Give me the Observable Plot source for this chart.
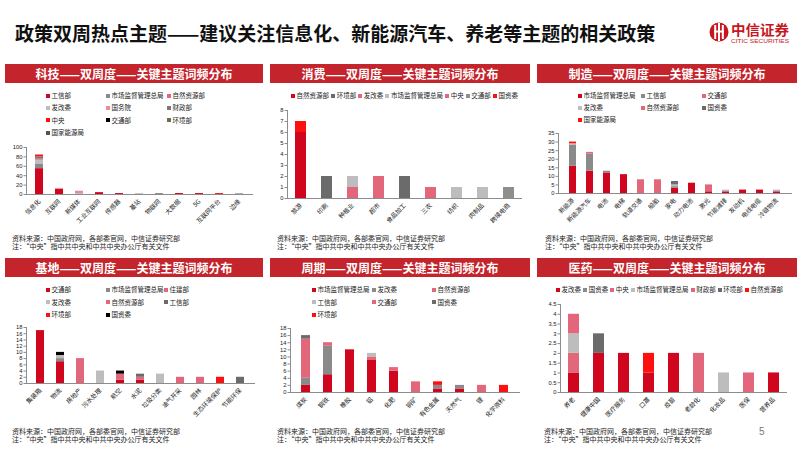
<!DOCTYPE html>
<html><head><meta charset="utf-8">
<script src="https://cdn.jsdelivr.net/npm/d3@7"></script>
<script src="https://cdn.jsdelivr.net/npm/@observablehq/plot@0.6"></script>
<style>
body{margin:0;background:#fff;}
#page{position:relative;width:802px;height:451px;overflow:hidden;background:#fff;font-family:"Noto Sans CJK SC",sans-serif;}
.abs{position:absolute;}
.tbar{position:absolute;height:19px;background:#C4242B;color:#fff;font-weight:bold;font-size:12px;line-height:19px;text-align:center;letter-spacing:0px;}
.li{position:absolute;white-space:nowrap;font-size:6.5px;line-height:8px;color:#222;}
.sw{display:inline-block;width:4px;height:4px;margin-right:1.5px;vertical-align:middle;position:relative;top:-0.5px;}
.row{position:absolute;display:flex;justify-content:space-between;white-space:nowrap;font-size:6.5px;line-height:8px;color:#222;}
.src{position:absolute;font-size:7px;color:#222;line-height:8px;white-space:nowrap;}
.plotwrap{position:absolute;}
</style></head><body><div id="page"></div>
<script>
// ---------------- DATA ----------------
const mainTitle = "政策双周热点主题——建议关注信息化、新能源汽车、养老等主题的相关政策";
const sourceLine1 = "资料来源：中国政府网，各部委官网，中信证券研究部";
const sourceLine2 = "注：“中央”指中共中央和中共中央办公厅有关文件";

// 科技
const techTitle = "科技——双周度——关键主题词频分布";
const techCategories = ["信息化","互联网","新媒体","工业互联网","传感器","基站","物联网","大数据","5G","互联网平台","边缘"];
const techSeries = ["工信部","市场监督管理总局","自然资源部","发改委","国务院","财政部","中央","交通部","环境部","国家能源局"];
const techValues = [
  [55,11,0,4,2,0,0,2,2,0,0],
  [10,0,0,0,0,1,2,0,0,0,0],
  [0,0,0,0,0,0,0,0,0,0,0],
  [7,0,2,0,0,0,0,0,0,0,0],
  [3,2,5,0,0,0,0,0,0,0,0],
  [5,0,0,0,0,0,0,0,0,0,0],
  [4,0,0,0,0,0,0,0,0,2,0],
  [0,0,0,0,0,0,0,0,0,0,0],
  [0,0,0,0,0,0,0,0,0,0,0],
  [0,0,0,0,0,0,0,0,0,0,1]
];
const techTicks = [0,20,40,60,80,100];

// 消费
const consTitle = "消费——双周度——关键主题词频分布";
const consCategories = ["旅游","印刷","种植业","超市","食品加工","三农","纺织","肉制品","跨境电商"];
const consSeries = ["自然资源部","环境部","发改委","市场监督管理总局","中央","交通部","国资委"];
const consValues = [
  [6,0,0,0,0,0,0,0,0],
  [0,2,0,0,2,0,0,0,0],
  [0,0,1,2,0,0,0,0,0],
  [0,0,1,0,0,0,1,1,0],
  [0,0,0,0,0,1,0,0,0],
  [0,0,0,0,0,0,0,0,1],
  [1,0,0,0,0,0,0,0,0]
];
const consTicks = [0,1,2,3,4,5,6,7,8];

// 制造
const mfgTitle = "制造——双周度——关键主题词频分布";
const mfgCategories = ["新能源","新能源汽车","电池","电梯","轨道交通","船舶","家电","动力电池","激光","节能减排","发动机","电线电缆","冷链物流"];
const mfgSeries = ["市场监督管理总局","工信部","交通部","发改委","自然资源部","国资委","国家能源局"];
const mfgValues = [
  [16,13,12,11,0,0,3,6,1,1,2,2,1],
  [12,10,1,0,0,0,1,0,0,0,0,0,0],
  [0,1,0,0,8,8,0,0,0,0,0,0,0],
  [1,0,0,0,0,0,1,0,0,1,0,0,1],
  [0,0,0,0,0,0,0,0,4,0,0,0,0],
  [0,0,0,0,0,0,2,0,0,0,0,0,0],
  [1,0,0,0,0,0,0,0,0,0,0,0,0]
];
const mfgTicks = [0,5,10,15,20,25,30,35];

// 基地
const baseTitle = "基地——双周度——关键主题词频分布";
const baseCategories = ["集装箱","物流","房地产","污水处理","航空","水泥","垃圾分类","油气开采","园林","生态环境保护","节能环保"];
const baseSeries = ["交通部","市场监督管理总局","住建部","发改委","自然资源部","工信部","环境部","国资委"];
const baseValues = [
  [17,7,0,0,1,1,0,0,0,0,0],
  [0,1,0,0,0,0,0,0,0,0,0],
  [0,0,8,0,0,1,0,0,2,0,0],
  [0,1,0,4,0,0,3,0,0,0,0],
  [0,0,0,0,2,0,0,2,0,0,0],
  [0,0,0,0,0,1,0,0,0,0,2],
  [0,0,0,0,0,0,0,0,0,2,0],
  [0,1,0,0,1,0,0,0,0,0,0]
];
const baseTicks = [0,2,4,6,8,10,12,14,16,18];

// 周期
const cycTitle = "周期——双周度——关键主题词频分布";
const cycCategories = ["煤炭","钢铁","橡胶","铝","化肥","铜矿","有色金属","天然气","锂","化学原料"];
const cycSeries = ["市场监督管理总局","发改委","自然资源部","工信部","交通部","国资委","环境部"];
const cycValues = [
  [2,5,12,9,6,0,1,1,0,0],
  [2,8,0,0,0,0,1,1,0,0],
  [11,1,0,1,1,3,0,0,2,0],
  [0,0,0,1,0,0,0,0,0,0],
  [0,0,0,0,0,0,0,0,0,0],
  [1,0,0,0,0,0,0,0,0,0],
  [0,0,0,0,0,0,1,0,0,2]
];
const cycTicks = [0,2,4,6,8,10,12,14,16,18];

// 医药
const medTitle = "医药——双周度——关键主题词频分布";
const medCategories = ["养老","健康中国","医疗服务","口罩","疫苗","老龄化","化妆品","医保","营养品"];
const medSeries = ["发改委","国资委","中央","市场监督管理总局","财政部","环境部","自然资源部"];
const medValues = [
  [1,2,2,1,2,0,0,0,1],
  [0,0,0,0,0,0,0,0,0],
  [1,0,0,0,0,2,0,0,0],
  [1,0,0,0,0,0,1,0,0],
  [1,0,0,0,0,0,0,1,0],
  [0,1,0,0,0,0,0,0,0],
  [0,0,0,1,0,0,0,0,0]
];
const medTicks = [0,0.5,1,1.5,2,2.5,3,3.5,4,4.5];

// ---------------- STYLE (palettes) ----------------
const DR = "#D0061E", BR = "#FF1010", PK = "#E2677B", LG = "#BDBDBD", GR = "#8A8A8A", DG = "#6B6B6B";
const techColors = [DR, GR, PK, LG, "#E88C9C", "#7A7A7A", BR, "#000000", "#6E6E4A", "#555555"];
const consColors = [DR, DG, PK, LG, "#E4667A", "#8E8E8E", BR];
const mfgColors  = [DR, GR, PK, LG, "#E4667A", DG, BR];
const baseColors = [DR, GR, PK, LG, "#E4667A", DG, BR, "#000000"];
const cycColors  = [DR, GR, PK, LG, "#E4667A", DG, BR];
const medColors  = [DR, GR, PK, LG, "#E4667A", DG, BR];

// ---------------- LAYOUT ----------------
const page = document.getElementById("page");
function el(tag, cls, css, text){
  const e = document.createElement(tag);
  if (cls) e.className = cls;
  if (css) Object.assign(e.style, css);
  if (text != null) e.textContent = text;
  page.appendChild(e);
  return e;
}

// main title
el("div","abs",{left:"15px",top:"20px",fontSize:"19px",fontWeight:"bold",color:"#111",lineHeight:"26px",whiteSpace:"nowrap"}, mainTitle);

// logo
const logo = el("div","abs",{left:"709px",top:"19px",width:"90px",height:"28px"});
logo.innerHTML = `<svg width="90" height="28" style="overflow:visible">
  <circle cx="10" cy="13" r="9.5" fill="#C8161D"/>
  <rect x="5.2" y="6" width="2" height="14" fill="#fff"/>
  <rect x="9" y="4" width="2" height="18" fill="#fff"/>
  <rect x="12.8" y="6" width="2" height="14" fill="#fff"/>
  <rect x="5" y="11.5" width="10" height="2" fill="#fff"/>
  <text x="22" y="16" font-size="14" font-weight="bold" fill="#C8161D" font-family="Noto Sans CJK SC" textLength="58" lengthAdjust="spacingAndGlyphs">中信证券</text>
  <text x="22" y="24" font-size="5.2" fill="#C8161D" font-family="Liberation Sans" textLength="58" lengthAdjust="spacingAndGlyphs">CITIC SECURITIES</text>
</svg>`;

function drawPanel(P){
  const {title, cats, series, values, colors, ticks, L} = P;
  el("div","tbar",{left:L.x0+"px",top:L.barTop+"px",width:(L.x1-L.x0)+"px"}, title);

  // legend
  if (L.legendGrid){
    series.forEach((s,i)=>{
      const r = Math.floor(i/3), c = i%3;
      const d = el("div","li",{left:L.legendGrid.cols[c]+"px",top:(L.legendGrid.y0 + r*L.legendGrid.dy - 4)+"px"});
      d.innerHTML = `<span class="sw" style="background:${colors[i]}"></span>${s}`;
    });
  } else {
    const d = el("div","row",{left:L.legendRow.x+"px",top:(L.legendRow.y-4)+"px",width:L.legendRow.w+"px"});
    d.innerHTML = series.map((s,i)=>`<span><span class="sw" style="background:${colors[i]}"></span>${s}</span>`).join("");
  }

  // chart
  const rows = [];
  series.forEach((s,i)=>cats.forEach((c,j)=>rows.push({cat:c, series:s, value:values[i][j]})));
  const svgTop = L.yTop - L.mt, svgH = L.mt + (L.yBot - L.yTop) + L.mb;
  const svgLeft = L.x0, svgW = L.x1 - L.x0;
  const chart = Plot.plot({
    width: svgW, height: svgH,
    marginLeft: L.axL - L.x0, marginRight: L.x1 - L.axR, marginTop: L.mt, marginBottom: L.mb,
    style: {fontSize:"5.8px", fontFamily:"Liberation Sans, Noto Sans CJK SC, sans-serif", color:"#222", background:"transparent", overflow:"visible"},
    x: {domain: cats, paddingInner: 0.58, paddingOuter: 0.3, label: null},
    y: {domain: [ticks[0], ticks[ticks.length-1]], label: null},
    color: {domain: series, range: colors},
    marks: [
      Plot.barY(rows, {x:"cat", y:"value", fill:"series"}),
      Plot.axisY({ticks, tickSize: 2.5, tickPadding: 1.5, tickFormat: d => String(d), stroke:"#8c8c8c", fontSize: 5.8}),
      Plot.axisX({tickRotate: -45, tickSize: 0, tickPadding: 6, fontSize: 6.2, fontFamily:"Noto Sans CJK SC"}),
      Plot.ruleY([ticks[0]], {stroke:"#8c8c8c", strokeWidth: 1}),
      Plot.frame({anchor:"left", stroke:"#8c8c8c"})
    ]
  });
  const w = el("div","plotwrap",{left:svgLeft+"px",top:svgTop+"px"});
  w.appendChild(chart);

  el("div","src",{left:L.srcX+"px",top:(L.srcY-4.5)+"px"}, sourceLine1);
  el("div","src",{left:L.srcX+"px",top:(L.srcY+4)+"px"}, sourceLine2);
}

drawPanel({title:techTitle, cats:techCategories, series:techSeries, values:techValues, colors:techColors, ticks:techTicks,
  L:{x0:5,x1:263,barTop:64,legendGrid:{cols:[46,106,167],y0:95,dy:12.3},yTop:147,yBot:194,axL:26,axR:253,mt:8,mb:42,srcX:12,srcY:238}});
drawPanel({title:consTitle, cats:consCategories, series:consSeries, values:consValues, colors:consColors, ticks:consTicks,
  L:{x0:270,x1:530,barTop:64,legendRow:{x:291,y:95,w:227},yTop:110,yBot:198,axL:287,axR:522,mt:8,mb:34,srcX:277,srcY:238}});
drawPanel({title:mfgTitle, cats:mfgCategories, series:mfgSeries, values:mfgValues, colors:mfgColors, ticks:mfgTicks,
  L:{x0:537,x1:797,barTop:64,legendGrid:{cols:[578,641,702],y0:95,dy:12},yTop:133,yBot:193,axL:558,axR:792,mt:8,mb:38,srcX:545,srcY:238}});
drawPanel({title:baseTitle, cats:baseCategories, series:baseSeries, values:baseValues, colors:baseColors, ticks:baseTicks,
  L:{x0:5,x1:263,barTop:258,legendGrid:{cols:[46,106,164],y0:289,dy:12.5},yTop:327,yBot:383,axL:26,axR:255,mt:8,mb:42,srcX:12,srcY:431}});
drawPanel({title:cycTitle, cats:cycCategories, series:cycSeries, values:cycValues, colors:cycColors, ticks:cycTicks,
  L:{x0:270,x1:530,barTop:258,legendGrid:{cols:[312,372,432],y0:289,dy:12.5},yTop:328,yBot:392,axL:290,axR:520,mt:8,mb:34,srcX:277,srcY:431}});
drawPanel({title:medTitle, cats:medCategories, series:medSeries, values:medValues, colors:medColors, ticks:medTicks,
  L:{x0:537,x1:797,barTop:258,legendRow:{x:556,y:289,w:227},yTop:304,yBot:392,axL:560,axR:787,mt:8,mb:34,srcX:544,srcY:431}});

// page number
el("div","abs",{left:"759px",top:"426px",fontSize:"10px",color:"#777",fontFamily:"Liberation Sans"}, "5");
</script>
</body></html>
